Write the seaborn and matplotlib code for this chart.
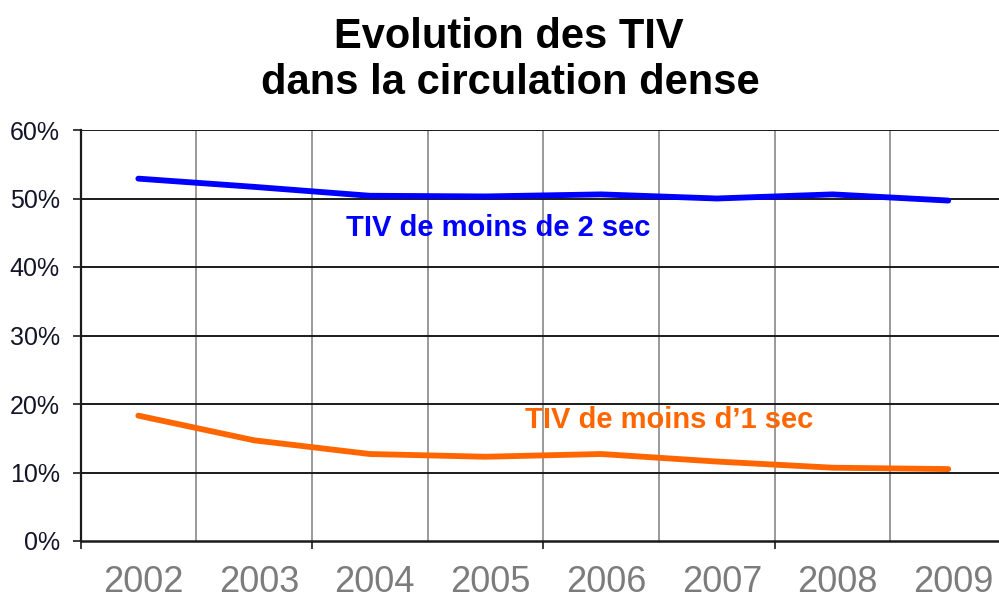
import matplotlib
matplotlib.use("Agg")
import matplotlib.pyplot as plt
import matplotlib.transforms as mtransforms
import seaborn as sns
import pandas as pd
from matplotlib.ticker import FixedLocator, FuncFormatter

years = ['2002', '2003', '2004', '2005', '2006', '2007', '2008', '2009']
tiv_moins_2s = [52.9, 51.7, 50.4, 50.3, 50.6, 50.0, 50.6, 49.7]
tiv_moins_1s = [18.3, 14.7, 12.7, 12.3, 12.7, 11.6, 10.7, 10.5]
y_ticks = [0, 10, 20, 30, 40, 50, 60]
title_lines = ['Evolution des TIV', 'dans la circulation dense']
label_2s = 'TIV de moins de 2 sec'
label_1s = 'TIV de moins d\u20191 sec'

sns.set_style('white')
plt.rcParams['font.family'] = ['Liberation Sans', 'DejaVu Sans']

df = pd.DataFrame({
    'pos': list(range(len(years))) * 2,
    'val': tiv_moins_2s + tiv_moins_1s,
    'serie': [label_2s] * len(years) + [label_1s] * len(years),
})

fig = plt.figure(figsize=(9.99, 6.03), dpi=100)
ax = fig.add_axes([80.5 / 999, 62 / 603, 925.6 / 999, 411 / 603])

sns.lineplot(data=df, x='pos', y='val', hue='serie',
             palette={label_2s: '#0000FF', label_1s: '#FF6600'},
             linewidth=4.2, ax=ax, legend=False, zorder=5)

ax.set_xlim(-0.5, len(years) - 0.5)
ax.set_ylim(0, 60)
ax.set_xlabel('')
ax.set_ylabel('')

# vertical gray gridlines between categories
for b in [i + 0.5 for i in range(len(years) - 1)]:
    ax.axvline(b, color='#9a9a9a', lw=1.4, zorder=1)
# horizontal black gridlines
for t in y_ticks[1:]:
    ax.axhline(t, color='#1a1a1a', lw=1.4, zorder=2)

ax.yaxis.set_major_locator(FixedLocator(y_ticks))
ax.yaxis.set_major_formatter(FuncFormatter(lambda v, p: f'{int(round(v))}%'))
ax.tick_params(axis='y', which='major', direction='out', length=6, width=1.2,
               color='#1a1a1a', pad=9, labelsize=18, labelcolor='#141428', left=True)

ax.xaxis.set_major_locator(FixedLocator([-0.5, 1.5, 3.5, 5.5, 7.5]))
ax.xaxis.set_major_formatter(FuncFormatter(lambda v, p: ''))
ax.xaxis.set_minor_locator(FixedLocator(list(range(len(years)))))
ax.set_xticklabels(years, minor=True)
ax.tick_params(axis='x', which='major', direction='out', length=6, width=1.2,
               color='#1a1a1a', bottom=True)
ax.tick_params(axis='x', which='minor', length=0, pad=17, labelsize=26,
               labelcolor='#7c7c7c')
offset = mtransforms.ScaledTranslation(5 / 100, 0, fig.dpi_scale_trans)
for lab in ax.get_xticklabels(minor=True):
    lab.set_transform(lab.get_transform() + offset)

for s in ['top', 'right']:
    ax.spines[s].set_visible(False)
ax.spines['left'].set_color('#1a1a1a')
ax.spines['left'].set_linewidth(1.6)
ax.spines['bottom'].set_color('#1a1a1a')
ax.spines['bottom'].set_linewidth(1.8)

ax.text(3.11, 45.7, label_2s, color='#0000FF', fontsize=21, fontweight='bold',
        ha='center', va='center', zorder=6)
ax.text(4.59, 17.7, label_1s, color='#FF6600', fontsize=21, fontweight='bold',
        ha='center', va='center', zorder=6)

fig.text(509 / 999, 1 - 48 / 603, title_lines[0], fontsize=30, fontweight='bold',
         ha='center', va='baseline', color='black')
fig.text(510 / 999, 1 - 94 / 603, title_lines[1], fontsize=30, fontweight='bold',
         ha='center', va='baseline', color='black')

fig.savefig('out.png', dpi=100)
